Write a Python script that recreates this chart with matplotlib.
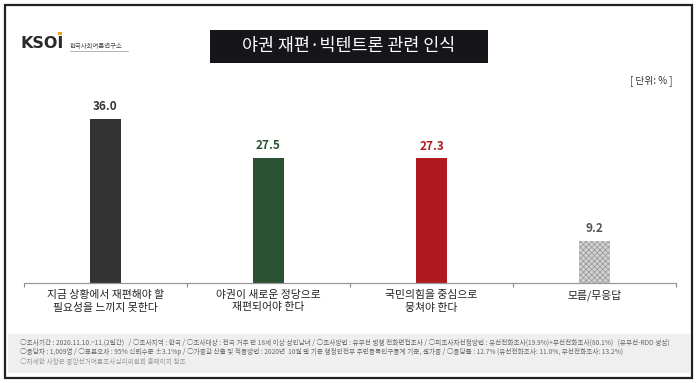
import matplotlib.pyplot as plt
from matplotlib.patches import Rectangle

plt.rcParams['font.family'] = ['Noto Sans CJK KR', 'DejaVu Sans']
plt.rcParams['hatch.linewidth'] = 0.6

# data
categories = ["지금 상황에서 재편해야 할\n필요성을 느끼지 못한다",
              "야권이 새로운 정당으로\n재편되어야 한다",
              "국민의힘을 중심으로\n뭉쳐야 한다",
              "모름/무응답"]
values = [36.0, 27.5, 27.3, 9.2]
bar_colors = ["#333333", "#2b5133", "#b0191e", "#d4d4d4"]
label_colors = ["#333333", "#2b5133", "#b0191e", "#555555"]

title = "야권 재편·빅텐트론 관련 인식"
unit = "[ 단위: % ]"
footer = [
    "○조사기간 : 2020.11.10.~11.(2일간)   / ○조사지역 : 한국 / ○조사대상 : 전국 거주 만 18세 이상 성인남녀 / ○조사방법 : 유무선 병행 전화면접조사 / ○피조사자선정방법 : 유선전화조사(19.9%)+무선전화조사(80.1%)   (유무선-RDD 생성)",
    "○응답자 : 1,009명 / ○표본오차 : 95% 신뢰수준 ±3.1%p / ○가중값 산출 및 적용방법 : 2020년  10월 말 기준 행정안전부 주민등록인구통계 기준, 셀가중 / ○응답률 : 12.7% (유선전화조사: 11.0%, 무선전화조사: 13.2%)",
    "○자세한 사항은 중앙선거여론조사심의위원회 홈페이지 참조",
]

W, H = 700, 383
fig = plt.figure(figsize=(W / 100, H / 100), dpi=100)
fig.patch.set_facecolor("white")

def fx(x):
    return x / W

def fy(y):
    return 1 - y / H

# outer frame
fig.patches.append(Rectangle((fx(5), fy(378)), fx(687), 373 / H, transform=fig.transFigure,
                             fill=False, edgecolor="#222222", linewidth=1.6))
# footer box
fig.patches.append(Rectangle((fx(8), fy(373)), fx(682), 39 / H, transform=fig.transFigure,
                             facecolor="#efefef", edgecolor="none"))
# title box
fig.patches.append(Rectangle((fx(210), fy(63)), fx(278), 33 / H, transform=fig.transFigure,
                             facecolor="#16161a", edgecolor="none"))
fig.text(fx(349), fy(46.5), title, color="white", fontsize=12.5, ha="center", va="center")

# logo
fig.text(fx(21), fy(44), "KSOI", color="#2a2a2a", fontsize=11.5, fontweight="bold",
         ha="left", va="center", family="DejaVu Sans")
fig.patches.append(Rectangle((fx(58), fy(35)), fx(4), 3 / H, transform=fig.transFigure,
                             facecolor="#f0a020", edgecolor="none"))
fig.text(fx(70), fy(46), "한국사회여론연구소", color="#444444", fontsize=4.6, ha="left", va="center")
fig.lines.append(plt.Line2D([fx(70), fx(128)], [fy(51), fy(51)], transform=fig.transFigure,
                            color="#999999", linewidth=0.5))

fig.text(fx(673), fy(81), unit, color="#333333", fontsize=7, ha="right", va="center")

# footer text
for i, line in enumerate(footer):
    fig.text(fx(20), fy(343 + i * 9.5), line, color="#666666" if i < 2 else "#999999",
             fontsize=4.75, ha="left", va="center")

# chart
ax = fig.add_axes([fx(24), fy(282.7), fx(652), 182 / H])
x = list(range(len(values)))
bars = ax.bar(x, values, width=0.19, color=bar_colors, zorder=2)
bars[3].set_hatch("xxxxxx")
bars[3].set_edgecolor("#9a9a9a")
bars[3].set_linewidth(0)
for xi, v, c in zip(x, values, label_colors):
    ax.text(xi, v + 1.3, f"{v:.1f}", ha="center", va="bottom", color=c,
            fontsize=8.5, fontweight="bold")

ax.set_xlim(-0.5, 3.5)
ax.set_ylim(0, 40)
ax.set_yticks([])
ax.set_xticks(x)
ax.set_xticklabels(categories, fontsize=7.8, color="#222222", linespacing=1.35)
ax.tick_params(axis="x", length=0, pad=5)
ax.set_xticks([-0.5, 0.5, 1.5, 2.5, 3.5], minor=True)
ax.tick_params(axis="x", which="minor", length=3, color="#888888", width=0.8)
for s in ["top", "right", "left"]:
    ax.spines[s].set_visible(False)
ax.spines["bottom"].set_color("#999999")
ax.spines["bottom"].set_linewidth(0.9)
ax.set_facecolor("none")

fig.savefig("out.png", dpi=100)
